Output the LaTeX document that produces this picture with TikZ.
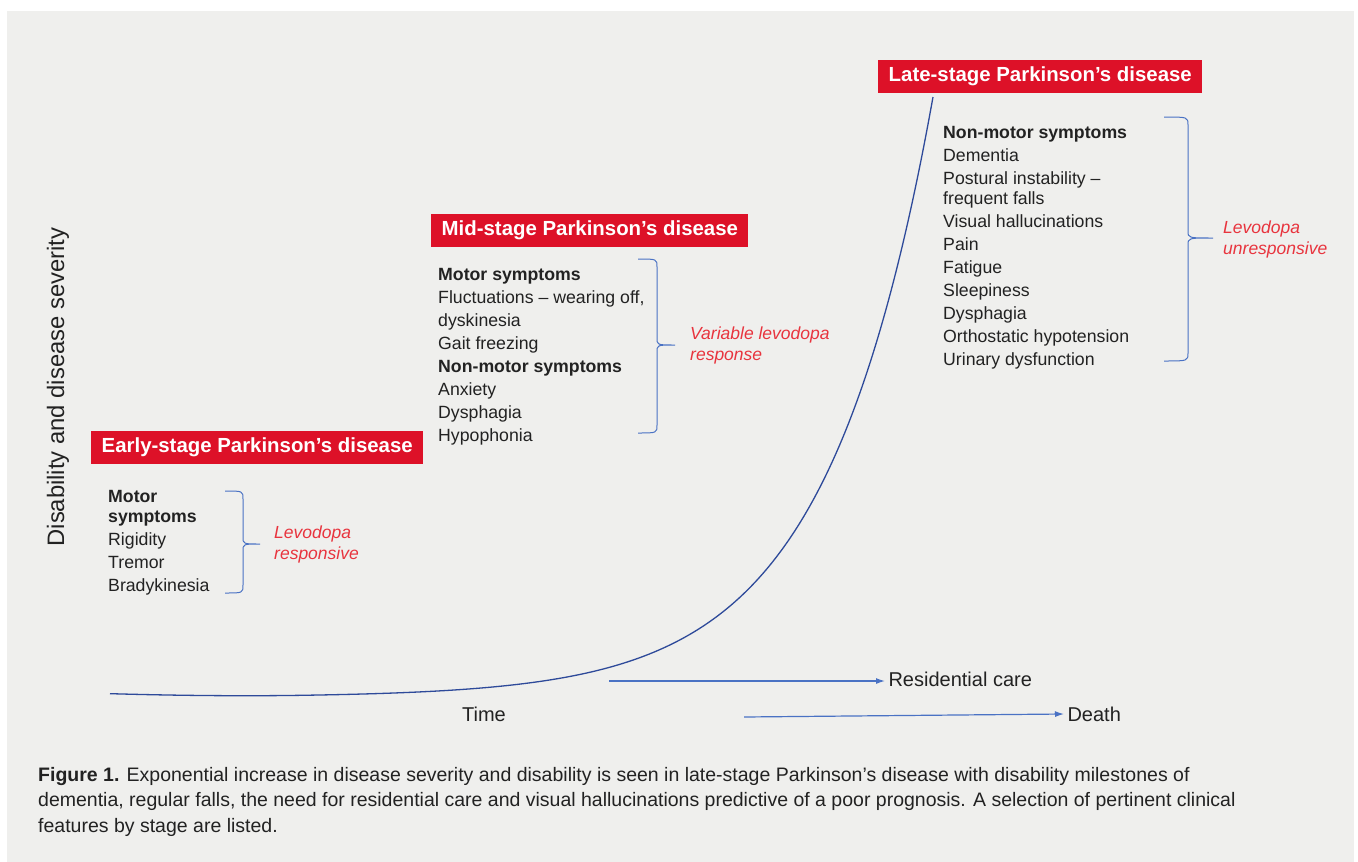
\documentclass[tikz,border=0pt]{standalone}
\usepackage{fontspec}
\setmainfont{Liberation Sans}
\usetikzlibrary{arrows.meta}

\definecolor{panel}{HTML}{EFEFED}
\definecolor{stagered}{HTML}{DD1128}
\definecolor{notered}{HTML}{E8343E}
\definecolor{bracketblue}{HTML}{4A72C4}
\definecolor{curveblue}{HTML}{2E4A9A}
\definecolor{bodytext}{HTML}{222222}

% right-hand curly bracket: start x, stem x, tip x, top y, tip y, bottom y
\newcommand{\sidebrace}[6]{%
  \draw[bracket] (#1,#4) .. controls (#2,#4) .. (#2,#4+8) -- (#2,#5-7)
    .. controls (#2,#5) .. (#3,#5) .. controls (#2,#5) .. (#2,#5+7)
    -- (#2,#6-8) .. controls (#2,#6) .. (#1,#6);}

\tikzset{
  stagebox/.style={fill=stagered, text=white, font=\fontsize{20.4}{24}\selectfont\bfseries,
    minimum height=33pt, inner xsep=10.5pt, inner ysep=0pt, anchor=west},
  symlist/.style={anchor=north west, inner sep=0pt, align=left, text=bodytext,
    font=\fontsize{17.7}{23}\selectfont},
  respnote/.style={anchor=north west, inner sep=0pt, align=left, text=notered,
    font=\fontsize{17.5}{20.5}\selectfont\itshape},
  axislabel/.style={text=bodytext, font=\fontsize{20}{24}\selectfont},
  bracket/.style={bracketblue, line width=1pt},
  milestone/.style={bracketblue, line width=1.2pt, -{Latex[length=9pt,width=6pt]}}
}

\begin{document}
\begin{tikzpicture}[x=1pt, y=-1pt]
\useasboundingbox (0,0) rectangle (1358,862);
\fill[white] (0,0) rectangle (1358,862);
\fill[panel] (7,11) rectangle (1354,862);

\coordinate (rcfrom) at (609,681);
\coordinate (deathfrom) at (744,717);

% severity curve, exponential rise into the late stage
\draw[curveblue, line width=1.3pt] plot[domain=110:933, samples=160, smooth]
  (\x, {697 - 0.103*exp(0.0093*\x) - (0.009*max(0,304-\x))^2});

% stage headers
\node[stagebox] (early) at (91,447) {Early-stage Parkinson’s disease};
\node[stagebox] (mid) at (431,230) {Mid-stage Parkinson’s disease};
\node[stagebox] (late) at (878,76) {Late-stage Parkinson’s disease};

% symptom lists
\node[symlist] (earlylist) at (108,490) {\textbf{Motor}\\[-3pt]\textbf{symptoms}\\Rigidity\\Tremor\\Bradykinesia};
\node[symlist] (midlist) at (438,268) {\textbf{Motor symptoms}\\Fluctuations – wearing off,\\dyskinesia\\Gait freezing\\\textbf{Non-motor symptoms}\\Anxiety\\Dysphagia\\Hypophonia};
\node[symlist] (latelist) at (943,126) {\textbf{Non-motor symptoms}\\Dementia\\Postural instability –\\[-3pt]frequent falls\\Visual hallucinations\\Pain\\Fatigue\\Sleepiness\\Dysphagia\\Orthostatic hypotension\\Urinary dysfunction};

\sidebrace{225}{243}{260}{491}{544}{593}
\sidebrace{638}{657}{675}{259}{345}{433}
\sidebrace{1164}{1188}{1213}{117}{238}{361}

\node[respnote] (earlyresp) at (274,526) {Levodopa\\responsive};
\node[respnote] (midresp) at (690,327) {Variable levodopa\\response};
\node[respnote] (lateresp) at (1223,221) {Levodopa\\unresponsive};

% axes and milestones
\node[axislabel, rotate=90, font=\fontsize{23.8}{28}\selectfont] (severity) at (58,387) {Disability and disease severity};
\node[axislabel] (time) at (484,714) {Time};
\node[axislabel, anchor=west] (rescare) at (885,679) {Residential care};
\node[axislabel, anchor=west] (death) at (1064,714) {Death};

\draw[milestone] (rcfrom) -- (rcfrom -| rescare.west);
\draw[milestone] (deathfrom) -- (death.west);

% caption
\node[anchor=north west, inner sep=0pt, align=left, text=bodytext,
  font=\fontsize{19.5}{25.5}\selectfont] (caption) at (38,767)
  {\textbf{Figure 1.} Exponential increase in disease severity and disability is seen in late-stage Parkinson’s disease with disability milestones of\\
  dementia, regular falls, the need for residential care and visual hallucinations predictive of a poor prognosis. A selection of pertinent clinical\\
  features by stage are listed.};
\end{tikzpicture}
\end{document}
